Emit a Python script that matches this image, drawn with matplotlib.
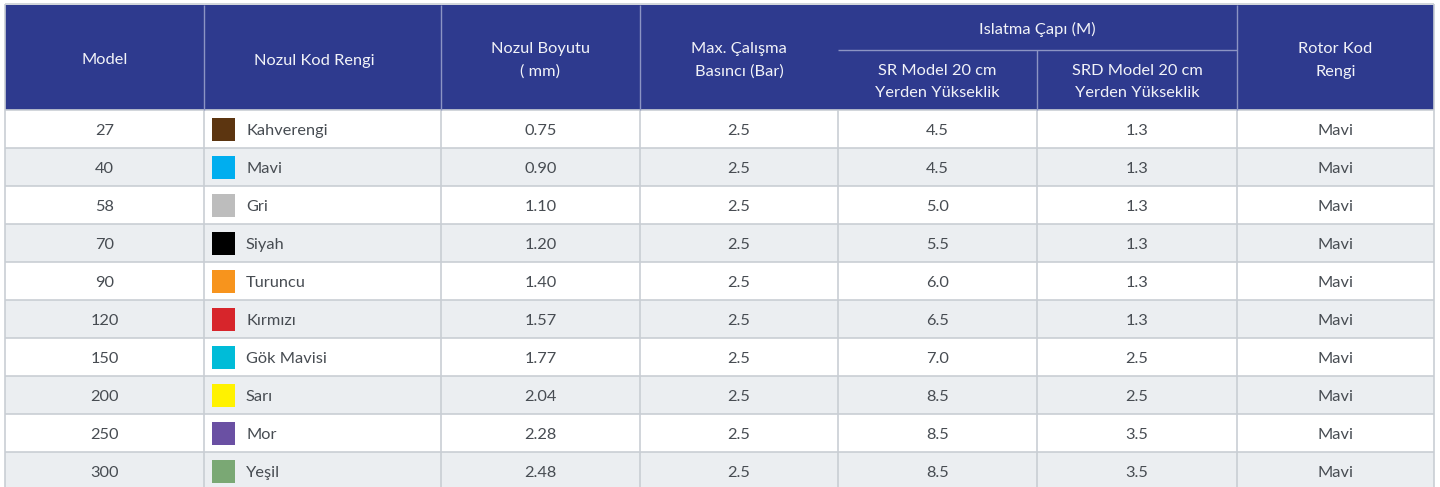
import matplotlib.pyplot as plt
from matplotlib.patches import Rectangle

plt.rcParams['font.family'] = ['Lato', 'DejaVu Sans']

# table data
models = ["27", "40", "58", "70", "90", "120", "150", "200", "250", "300"]
color_names = ["Kahverengi", "Mavi", "Gri", "Siyah", "Turuncu", "Kırmızı",
               "Gök Mavisi", "Sarı", "Mor", "Yeşil"]
swatches = ["#5c3510", "#00aeef", "#bdbdbd", "#000000", "#f7941d", "#d7252b",
            "#00bcd8", "#fff200", "#6a50a3", "#7aa874"]
nozzle_size = ["0.75", "0.90", "1.10", "1.20", "1.40", "1.57", "1.77", "2.04", "2.28", "2.48"]
pressure = ["2.5"] * 10
sr_diam = ["4.5", "4.5", "5.0", "5.5", "6.0", "6.5", "7.0", "8.5", "8.5", "8.5"]
srd_diam = ["1.3", "1.3", "1.3", "1.3", "1.3", "1.3", "2.5", "2.5", "3.5", "3.5"]
rotor = ["Mavi"] * 10

headers = ["Model", "Nozul Kod Rengi", "Nozul Boyutu\n( mm)", "Max. Çalışma\nBasıncı (Bar)",
           None, None, "Rotor Kod\nRengi"]
group_header = "Islatma Çapı (M)"
sub_headers = ["SR Model 20 cm\nYerden Yükseklik", "SRD Model 20 cm\nYerden Yükseklik"]

# layout (pixels)
W, H = 1440, 487
col_edges = [5, 204, 441, 640, 838, 1037, 1237, 1434]
top, head_mid, head_bot = 5, 50, 110
row_h = 38

HEAD_BG = "#2e3a8e"
HEAD_LINE = "#8c94c4"
HEAD_TXT = "#f2f3f8"
ALT_BG = "#ebeef1"
GRID = "#c9ced4"
TXT = "#474c52"
FS = 11.8
DY = 2  # text baseline nudge

fig = plt.figure(figsize=(W / 100, H / 100), dpi=100)
ax = fig.add_axes([0, 0, 1, 1])
ax.set_xlim(0, W)
ax.set_ylim(H, 0)
ax.axis("off")

# header background
ax.add_patch(Rectangle((col_edges[0], top), col_edges[-1] - col_edges[0], head_bot - top,
                       facecolor=HEAD_BG, edgecolor="none"))

# body rows
columns = [models, color_names, nozzle_size, pressure, sr_diam, srd_diam, rotor]
n = len(models)
for i in range(n):
    y0 = head_bot + i * row_h
    bg = "white" if i % 2 == 0 else ALT_BG
    ax.add_patch(Rectangle((col_edges[0], y0), col_edges[-1] - col_edges[0], row_h,
                           facecolor=bg, edgecolor="none"))
    yc = y0 + row_h / 2
    for j, col in enumerate(columns):
        if j == 1:
            sx = col_edges[1] + 8
            ax.add_patch(Rectangle((sx, yc - 11.5), 23, 23, facecolor=swatches[i], edgecolor="none"))
            ax.text(sx + 34, yc + DY, col[i], ha="left", va="center", fontsize=FS, color=TXT)
        else:
            xc = (col_edges[j] + col_edges[j + 1]) / 2
            ax.text(xc, yc + DY, col[i], ha="center", va="center", fontsize=FS, color=TXT)

bottom = head_bot + n * row_h

# grid lines body
for i in range(n + 1):
    ax.hlines(head_bot + i * row_h, col_edges[0], col_edges[-1], color=GRID, lw=1.2)
ax.vlines(col_edges, head_bot, bottom, color=GRID, lw=1.2)
ax.hlines(top - 1, col_edges[0], col_edges[-1], color=GRID, lw=1.2)
ax.vlines([col_edges[0], col_edges[-1]], top - 1, head_bot, color=GRID, lw=1.2)

# header lines and text
ax.vlines(col_edges[1:4] + [col_edges[6]], top, head_bot, color=HEAD_LINE, lw=1.0)
ax.vlines(col_edges[5], head_mid, head_bot, color=HEAD_LINE, lw=1.0)
ax.hlines(head_mid, col_edges[4], col_edges[6], color=HEAD_LINE, lw=1.0)

for j, h in enumerate(headers):
    if h is None:
        continue
    xc = (col_edges[j] + col_edges[j + 1]) / 2
    if j == 1:
        xc -= 8
    ax.text(xc, (top + head_bot) / 2 + 1 + DY, h, ha="center", va="center", fontsize=FS,
            color=HEAD_TXT, linespacing=1.75)
ax.text((col_edges[4] + col_edges[6]) / 2, (top + head_mid) / 2 + DY, group_header,
        ha="center", va="center", fontsize=FS, color=HEAD_TXT)
for k, sh in enumerate(sub_headers):
    xc = (col_edges[4 + k] + col_edges[5 + k]) / 2
    ax.text(xc, (head_mid + head_bot) / 2 + DY, sh, ha="center", va="center", fontsize=FS,
            color=HEAD_TXT, linespacing=1.75)

fig.savefig("out.png", dpi=100, facecolor="white")
